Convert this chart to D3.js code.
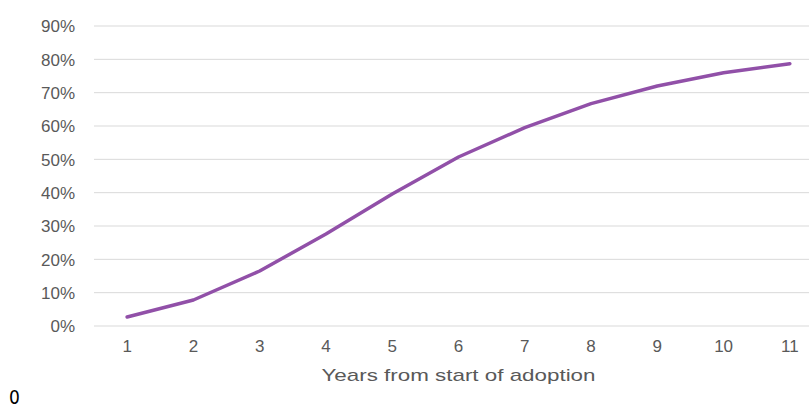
<!DOCTYPE html>
<html>
<head>
<meta charset="utf-8">
<script src="https://cdn.jsdelivr.net/npm/d3@7"></script>
<style>
  html,body{margin:0;padding:0;background:#fff;}
  svg{display:block;font-family:"Liberation Sans",Arial,sans-serif;}
  .tick text{fill:#595959;font-size:17px;}
</style>
</head>
<body>
<div id="chart"></div>
<script>
// years since adoption started, and share adopted
const years = [1,2,3,4,5,6,7,8,9,10,11];
const adoption = [0.027,0.078,0.165,0.276,0.396,0.507,0.595,0.667,0.72,0.76,0.787];
const yTicks = [0,0.1,0.2,0.3,0.4,0.5,0.6,0.7,0.8,0.9];

const W=809,H=410, L=94, R=823, T=26, B=326;
const svg=d3.select('#chart').append('svg').attr('width',W).attr('height',H);

const x=d3.scaleBand().domain(years).range([L,R]);
const y=d3.scaleLinear().domain([0,0.9]).range([B,T]);

// gridlines
svg.append('g').selectAll('line').data(yTicks).join('line')
  .attr('x1',L).attr('x2',R).attr('y1',d=>y(d)).attr('y2',d=>y(d))
  .attr('stroke','#d9d9d9').attr('stroke-width',1);

const gy=svg.append('g').attr('transform',`translate(${L},0)`)
  .call(d3.axisLeft(y).tickValues(yTicks).tickFormat(d3.format('.0%')).tickSize(0).tickPadding(19));
gy.select('.domain').remove();
gy.selectAll('text').attr('dy','0.35em');

const gx=svg.append('g').attr('transform',`translate(0,${B})`)
  .call(d3.axisBottom(x).tickSize(0).tickPadding(14));
gx.select('.domain').remove();

svg.append('text').attr('x',(L+R)/2).attr('y',381).attr('text-anchor','middle')
  .attr('fill','#595959').style('font-size','17px')
  .attr('textLength',274).attr('lengthAdjust','spacingAndGlyphs')
  .text('Years from start of adoption');

svg.append('path').datum(years.map((d,i)=>[d,adoption[i]]))
  .attr('d',d3.line().x(d=>x(d[0])+x.bandwidth()/2).y(d=>y(d[1])))
  .attr('fill','none').attr('stroke','#9150a8').attr('stroke-width',3.5)
  .attr('stroke-linecap','round').attr('stroke-linejoin','round');

svg.append('text').attr('x',9).attr('y',404).attr('fill','#000')
  .style('font-size','19px').style('font-family','"Liberation Sans Narrow","DejaVu Sans Condensed",sans-serif').text('0');
</script>
</body>
</html>
